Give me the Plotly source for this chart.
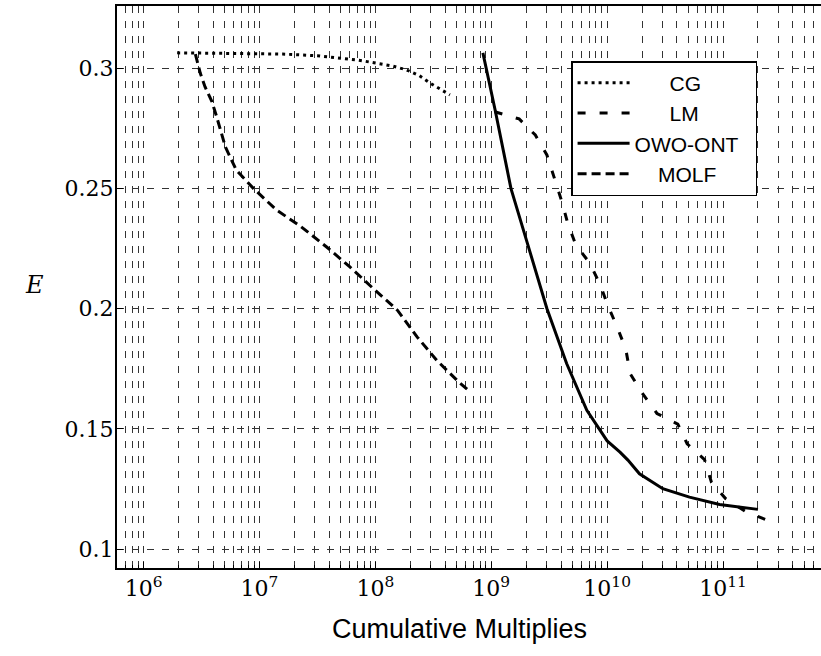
import plotly.graph_objects as go

# ---- data ----
cg_x = [1.95e6, 6.3e6, 1.58e7, 3.16e7, 4.7e7, 7.1e7, 1.02e8, 1.41e8, 1.86e8, 2.4e8, 2.95e8, 3.6e8, 4.4e8]
cg_y = [0.3065, 0.3063, 0.3060, 0.3053, 0.3044, 0.3035, 0.3022, 0.3010, 0.2994, 0.2970, 0.2940, 0.2915, 0.2890]

lm_x = [1.07e9, 1.74e9, 2.4e9, 3.02e9, 3.47e9, 4.07e9, 4.57e9, 5.37e9, 7.08e9, 8.71e9, 1.02e10,
        1.23e10, 1.45e10, 1.58e10, 2.0e10, 2.69e10, 4.07e10, 4.9e10, 6.92e10, 7.94e10, 1.05e11,
        1.55e11, 2.34e11]
lm_y = [0.2820, 0.2790, 0.2723, 0.2640, 0.2550, 0.2445, 0.2356, 0.2265, 0.2190, 0.2100, 0.2010,
        0.1920, 0.1830, 0.1730, 0.1650, 0.1564, 0.1520, 0.1438, 0.1372, 0.1278, 0.1210,
        0.1157, 0.1122]

owo_x = [8.47e8, 1.08e9, 1.48e9, 1.7e9, 2.0e9, 3.02e9, 4.47e9, 6.68e9, 1.0e10, 1.29e10, 1.51e10,
         1.9e10, 3.02e10, 5.13e10, 9.33e10, 2.0e11]
owo_y = [0.3065, 0.2827, 0.2500, 0.2400, 0.2290, 0.2001, 0.1772, 0.1577, 0.1450, 0.1403, 0.1370,
         0.1313, 0.1251, 0.1216, 0.1185, 0.1165]

molf_x = [2.8e6, 3.09e6, 3.39e6, 3.89e6, 4.27e6, 5.08e6, 6.31e6, 8.9e6, 1.41e7, 2.24e7, 3.8e7,
          6.03e7, 9.55e7, 1.55e8, 2.29e8, 3.39e8, 5.25e8, 6.6e8]
molf_y = [0.3060, 0.2980, 0.2924, 0.2862, 0.2800, 0.2674, 0.2577, 0.2500, 0.2410, 0.2345, 0.2257,
          0.2174, 0.2085, 0.1994, 0.1883, 0.1785, 0.1695, 0.1653]

series_names = ["CG", "LM", "OWO-ONT", "MOLF"]
NB = "\u00a0"
legend_labels = [NB * 6 + "CG", NB * 6 + "LM", "OWO-ONT" + NB * 2, NB * 4 + "MOLF"]

x_tickvals = [1e6, 1e7, 1e8, 1e9, 1e10, 1e11]
x_ticktext = ["10<sup>6</sup>", "10<sup>7</sup>", "10<sup>8</sup>", "10<sup>9</sup>",
              "10<sup>10</sup>", "10<sup>11</sup>"]
y_ticks = [0.1, 0.15, 0.2, 0.25, 0.3]
y_tick_text = ["0.1", "0.15", "0.2", "0.25", "0.3"]
x_title = "Cumulative Multiplies"
y_title = "<i>E</i>"

fig = go.Figure()
dashes = ["3px,4px", "8px,14px", "solid", "9px,5px"]
data = [(cg_x, cg_y), (lm_x, lm_y), (owo_x, owo_y), (molf_x, molf_y)]
for (xs, ys), name, lab, dsh in zip(data, series_names, legend_labels, dashes):
    fig.add_trace(go.Scatter(
        x=xs, y=ys, mode="lines", name=lab, legendgroup=name,
        line=dict(color="black", width=3, dash=dsh),
    ))

grid_dash = "7px,8px"
grid_col = "#333333"
tick_font = dict(family="DejaVu Serif", size=22, color="black")
fig.update_layout(
    width=821, height=656,
    margin=dict(l=117, r=0, t=6, b=88),
    paper_bgcolor="white", plot_bgcolor="white",
    showlegend=True,
    legend=dict(
        x=0.645, y=0.902, xanchor="left", yanchor="top",
        bgcolor="white", bordercolor="black", borderwidth=1.5,
        font=dict(family="Liberation Sans", size=21, color="black"),
        tracegroupgap=0, itemwidth=52,
    ),
    xaxis=dict(
        type="log", range=[5.771, 11.845],
        tickmode="array", tickvals=x_tickvals, ticktext=x_ticktext,
        ticks="inside", ticklen=6, tickcolor="black",
        showline=True, linecolor="black", linewidth=2, mirror=True,
        showgrid=True, gridcolor=grid_col, gridwidth=1, griddash=grid_dash,
        minor=dict(dtick="D1", showgrid=True, gridcolor=grid_col, gridwidth=1,
                   griddash=grid_dash, ticks="inside", ticklen=3, tickcolor="black"),
        tickfont=tick_font,
        zeroline=False,
    ),
    yaxis=dict(
        range=[0.0921, 0.326],
        tickmode="array", tickvals=y_ticks, ticktext=y_tick_text,
        ticks="inside", ticklen=6, tickcolor="black",
        showline=True, linecolor="black", linewidth=2, mirror=False,
        showgrid=True, gridcolor=grid_col, gridwidth=1, griddash=grid_dash,
        tickfont=tick_font,
        ticklabelstandoff=-3,
        zeroline=False,
    ),
    annotations=[
        dict(text=y_title, xref="paper", yref="paper", x=-0.1165, y=0.503,
             xanchor="center", yanchor="middle", showarrow=False, textangle=0,
             font=dict(family="DejaVu Serif", size=24, color="black")),
        dict(text=x_title, xref="paper", yref="paper", x=0.4858, y=-0.1077,
             xanchor="center", yanchor="middle", showarrow=False,
             font=dict(family="Liberation Sans", size=27, color="black")),
    ],
)

fig.write_html("out.html")
